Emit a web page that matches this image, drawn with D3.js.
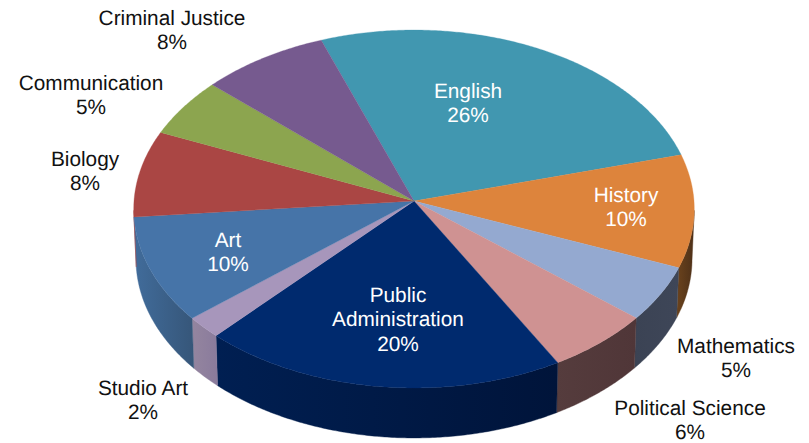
<!DOCTYPE html>
<html><head><meta charset="utf-8">
<script src="https://cdn.jsdelivr.net/npm/d3@7"></script>
<style>html,body{margin:0;padding:0;background:#fff}svg{display:block}text{font-family:"Liberation Sans",Arial,sans-serif;text-rendering:geometricPrecision}</style>
</head><body><div id="c"></div>
<script>
const categories = ["English","History","Mathematics","Political Science","Public Administration","Studio Art","Art","Biology","Communication","Criminal Justice"];
const shares = [26.4,10.2,5.0,5.8,20.2,2.0,9.6,7.8,5.3,7.7];
const percentLabels = ["26%","10%","5%","6%","20%","2%","10%","8%","5%","8%"];
const topColors = ["#4197b0","#dd843c","#94a9d0","#cf9292","#002a6e","#a796bb","#4674a8","#aa4644","#8ca54f","#765a8f"];
const wallLeft = ["#4197b0","#6b431d","#3b4354","#553c3d","#001f52","#94859f","#416c9b","#aa4644","#8ca54f","#765a8f"];
const wallRight = ["#4197b0","#4d3018","#3e4658","#503638","#00143a","#8a7b9c","#365679","#aa4644","#8ca54f","#765a8f"];

const W=809,H=443, DEG=Math.PI/180;
const apex={x:414,y:201}, a=280, b=178.6, k=0.0447, depth=50, shrink=0.992;
const startAngle=-20.2*DEG;
// perspective view of a tilted disc
const project=t=>{const w=1+k*Math.cos(t);return [apex.x+a*Math.sin(t)/w, apex.y-b*Math.cos(t)/w];};
const projectLow=t=>{const [x,y]=project(t);return [apex.x+shrink*(x-apex.x), y+depth];};

const arcs=d3.pie().sort(null).value(d=>d).startAngle(startAngle).endAngle(startAngle+2*Math.PI)(shares);
const line=d3.line();
const samples=(s,e)=>{const n=Math.max(2,Math.ceil((e-s)/(0.5*DEG)));return d3.range(n+1).map(i=>s+(e-s)*i/n);};

const svg=d3.select("#c").append("svg").attr("width",W).attr("height",H);
const defs=svg.append("defs");
const frontStart=93*DEG, frontEnd=267*DEG;

// side walls, outer ones first
const g=svg.append("g");
const walls=arcs.map((d,i)=>({i,s:Math.max(d.startAngle,frontStart),e:Math.min(d.endAngle,frontEnd)})).filter(d=>d.e>d.s);
walls.forEach(d=>{
  const ts=samples(d.s,d.e), up=ts.map(project), lo=ts.map(projectLow).reverse();
  const pts=up.concat(lo), xs=d3.extent(pts,p=>p[0]);
  const id="wall"+d.i;
  const gr=defs.append("linearGradient").attr("id",id).attr("gradientUnits","userSpaceOnUse")
    .attr("x1",xs[0]).attr("x2",xs[1]).attr("y1",0).attr("y2",0);
  gr.append("stop").attr("offset",0).attr("stop-color",wallLeft[d.i]);
  gr.append("stop").attr("offset",1).attr("stop-color",wallRight[d.i]);
  g.append("path").attr("d",line(pts)+"Z").attr("fill",`url(#${id})`).attr("stroke",`url(#${id})`).attr("stroke-width",0.4);
});

// top face
svg.append("g").selectAll("path").data(arcs).join("path")
  .attr("d",d=>line([[apex.x,apex.y]].concat(samples(d.startAngle,d.endAngle).map(project)))+"Z")
  .attr("fill",(d,i)=>topColors[i]).attr("stroke",(d,i)=>topColors[i]).attr("stroke-width",0.3);

// labels
const nameLines=c=>c==="Public Administration"?["Public","Administration"]:[c];
const labelAnchor=[[468,98],[626,202],[736,353],[690,415],[398,302],[143,395],[228,247],[85,166],[91,90],[172,25]];
const lightLabel=[true,true,false,false,true,false,true,false,false,false];
const lineStep=24.3;
const t=svg.append("g").attr("text-anchor","middle").attr("font-size",20.8);
categories.forEach((c,i)=>{
  const rows=nameLines(c).concat(percentLabels[i]);
  const tx=t.append("text").attr("fill",lightLabel[i]?"#fff":"#111");
  rows.forEach((r,j)=>tx.append("tspan").attr("x",labelAnchor[i][0]).attr("y",labelAnchor[i][1]+j*lineStep).text(r));
});
</script></body></html>
